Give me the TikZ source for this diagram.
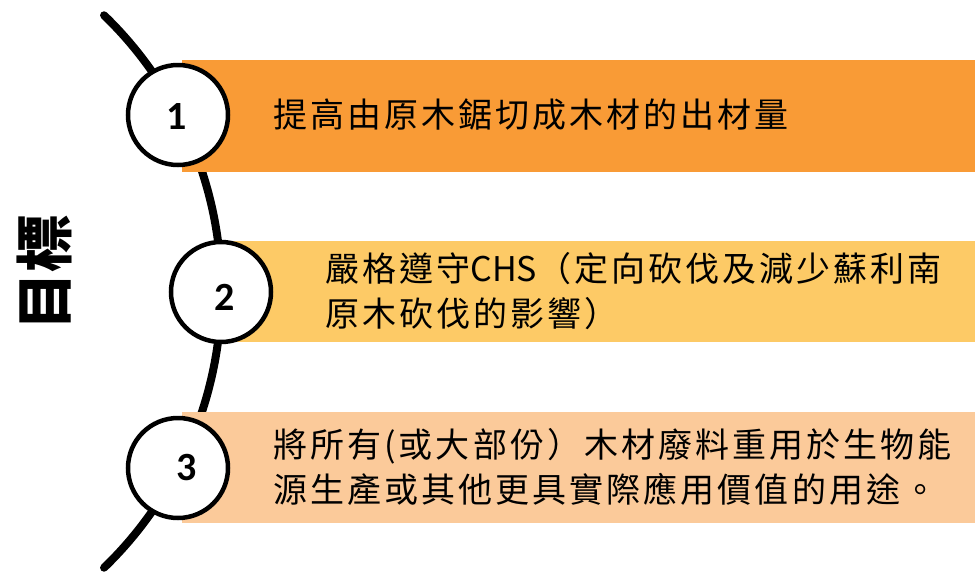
\documentclass[tikz,border=0pt]{standalone}
\usepackage{fontspec}
\newfontfamily\cjk{Noto Sans CJK TC}[LetterSpace=9]
\newfontfamily\cjktitle{Noto Sans CJK TC}
\newfontfamily\numfont{Carlito}
\definecolor{barA}{HTML}{F99B36}
\definecolor{barB}{HTML}{FDCA66}
\definecolor{barC}{HTML}{FBCA9A}
\tikzset{
  ring/.style={circle, draw=black, line width=4.5pt, fill=white, minimum size=100pt, inner sep=0pt},
  numtxt/.style={font=\numfont\bfseries\fontsize{40}{40}\selectfont, inner sep=0pt},
  bartxt/.style={font=\cjk\fontsize{34}{45}\selectfont, anchor=west, align=left, inner sep=0pt},
  spine/.style={line width=8pt, line cap=round, draw=black}
}
\begin{document}
\begin{tikzpicture}[x=1pt,y=-1pt]
\useasboundingbox (0,0) rectangle (975,571);
% spine arc
\coordinate (arcc) at (-162.7,291.5);
\draw[spine] (arcc) ++(-46:384) arc[start angle=-46, end angle=46, radius=384];
% bars
\fill[barA] (182,60) rectangle (975,172);
\fill[barB] (232,241) rectangle (975,342);
\fill[barC] (182,412) rectangle (975,523);
% circles
\node[ring] (c1) at (178,115) {};
\node[ring] (c2) at (221,292) {};
\node[ring] (c3) at (178,468) {};
\node[numtxt] (n1) at (177,117) {1};
\node[numtxt] (n2) at (225,297) {2};
\node[numtxt] (n3) at (187,468) {3};
% texts
\node[bartxt] (t1) at (273,115) {提高由原木鋸切成木材的出材量};
\node[bartxt] (t2) at (325,291.5) {嚴格遵守{\cjktitle CHS}（定向砍伐及減少蘇利南\\原木砍伐的影響）};
\node[bartxt] (t3) at (273,467) {將所有(或大部份）木材廢料重用於生物能\\源生產或其他更具實際應用價值的用途。};
% title
\node[font=\cjktitle\bfseries\fontsize{58}{58}\selectfont, rotate=90, inner sep=0pt] (title) at (44,272) {目標};
\end{tikzpicture}
\end{document}
